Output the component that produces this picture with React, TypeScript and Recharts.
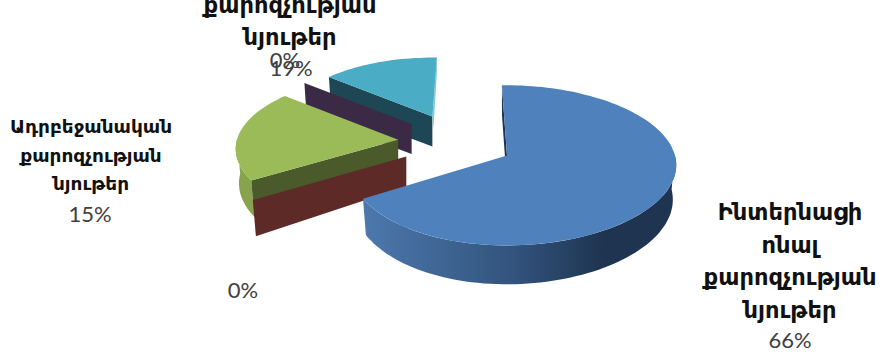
import React from "react";
import { PieChart, Pie } from "recharts";

// Share of propaganda materials by source. Listed counter-clockwise from the top,
// so that the slices furthest from the viewer are painted first.
const sliceKeys = ["regionalOther", "hiddenBack", "azerbaijani", "hiddenFront", "international"];
const sliceValues = [19, 0, 15, 0, 66];
const percentLabels = ["19%", "0%", "15%", "0%", "66%"];
const sliceCaptions = [
  ["քարոզչության", "նյութեր"],
  [],
  ["Ադրբեջանական", "քարոզչության", "նյութեր"],
  [],
  ["Ինտերնացի", "ոնալ", "քարոզչության", "նյութեր"],
];

const chartData = sliceKeys.map((key, i) => ({ key, value: sliceValues[i] }));

type Tone = { top: string; wall: string; rim: string; edge?: string };
const tones: Tone[] = [
  { top: "#4BACC6", wall: "#1E4756", rim: "#3D8CA1", edge: "#86C6D8" },
  { top: "#8064A2", wall: "#3A2A46", rim: "#3A2A46" },
  { top: "#9BBB59", wall: "#4B5A2B", rim: "#87A34D" },
  { top: "#C0504D", wall: "#5E2A28", rim: "#5E2A28" },
  { top: "#4F81BD", wall: "#1E3450", rim: "url(#blueRim)" },
];

// Where each caption block sits: centre x, first baseline, line step, font size, percent baseline.
const captionSpots = [
  { x: 290, y: 13, step: 32, size: 22.6, pct: 76, pctX: 291 },
  { x: 285, y: 0, step: 0, size: 0, pct: 68, pctX: 285 },
  { x: 91, y: 133, step: 28.5, size: 18.5, pct: 222, pctX: 90 },
  { x: 243, y: 0, step: 0, size: 0, pct: 298, pctX: 243 },
  { x: 790, y: 220, step: 32.5, size: 22.6, pct: 348, pctX: 790 },
];

// Tilted-view projection of the pie.
const VIEW = {
  cx: 456,
  cy: 142,
  radius: 162,
  squash: 0.486, // vertical / horizontal radius of the disc
  perspective: 0.125,
  explodeX: 58,
  explodeY: 28,
  rimDepth: 34,
  apexDepth: 30,
  // Slices nearer the viewer look larger and spread outward.
  nearX: 0.08,
  nearY: 0.115,
  nearRef: 0.469,
  spread: 0.041,
};

// Foreshortening of the view: clockwise bearing from the top of the pie -> bearing on screen.
const bearingKnots: [number, number][] = [
  [0, -2],
  [237.6, 239],
  [291.6, 310],
  [360, 362],
];

const rad = (deg: number) => (deg * Math.PI) / 180;

function viewBearing(b: number) {
  const v = Math.max(0, Math.min(360, b));
  for (let i = 1; i < bearingKnots.length; i++) {
    const [a0, b0] = bearingKnots[i - 1];
    const [a1, b1] = bearingKnots[i];
    if (v <= a1) return b0 + ((v - a0) / (a1 - a0)) * (b1 - b0);
  }
  return v;
}

function SliceShape(props: any) {
  const { cx, cy, outerRadius, startAngle, endAngle, index } = props;
  const tone = tones[index];
  // Recharts angles run counter-clockwise from 3 o'clock; bearings run clockwise from 12.
  const bStart = viewBearing(90 - endAngle + 360 * (90 - endAngle < 0 ? 1 : 0));
  const bEndRaw = 90 - startAngle + 360 * (90 - startAngle <= 0 ? 1 : 0);
  const bEnd = viewBearing(bEndRaw);
  const mid = (bStart + bEnd) / 2;
  const eu = Math.sin(rad(mid));
  const ev = -Math.cos(rad(mid));
  const ax = cx + VIEW.explodeX * eu;
  const ay = cy + VIEW.explodeY * ev;
  const nearX = 1 + VIEW.nearX * (ev - VIEW.nearRef);
  const nearY = 1 + VIEW.nearY * (ev - VIEW.nearRef);

  const rimPoint = (b: number, drop: boolean) => {
    const u = Math.sin(rad(b));
    const v = -Math.cos(rad(b));
    const s = 1 / (1 - VIEW.perspective * v);
    const x = ax + outerRadius * u * s * nearX * (1 + VIEW.spread * u * eu);
    const y = ay + outerRadius * VIEW.squash * v * s * nearY;
    return drop ? { x: ax + (x - ax) * 0.98, y: y + VIEW.rimDepth * s } : { x, y };
  };
  const apexLow = { x: ax, y: ay + VIEW.apexDepth };
  const arc = (from: number, to: number, drop: boolean) => {
    const pts = [];
    const n = Math.max(1, Math.ceil(Math.abs(to - from) / 2));
    for (let i = 0; i <= n; i++) pts.push(rimPoint(from + ((to - from) * i) / n, drop));
    return pts;
  };
  const toPath = (pts: { x: number; y: number }[]) =>
    "M" + pts.map((p) => `${p.x.toFixed(1)},${p.y.toFixed(1)}`).join("L") + "Z";

  const parts: React.ReactNode[] = [];
  const rimFrom = Math.max(bStart, 90);
  const rimTo = Math.min(bEnd, 270);
  if (rimTo > rimFrom) {
    parts.push(
      <path key="rim" fill={tone.rim} d={toPath([...arc(rimFrom, rimTo, false), ...arc(rimTo, rimFrom, true)])} />
    );
  }
  // The cut face on the clockwise-leading edge looks toward the viewer.
  parts.push(
    <path
      key="wall"
      fill={tone.wall}
      d={toPath([{ x: ax, y: ay }, rimPoint(bStart, false), rimPoint(bStart, true), apexLow])}
    />
  );
  if (tone.edge) {
    // Sliver of the trailing cut face, lit from the right.
    const tip = rimPoint(bEnd, false);
    parts.push(
      <path
        key="edge"
        fill={tone.edge}
        d={toPath([{ x: ax, y: ay }, tip, { x: tip.x, y: tip.y + VIEW.apexDepth / 2 }, { x: ax + 1, y: ay + 12 }])}
      />
    );
  }
  if (bEnd > bStart) {
    parts.push(
      <path key="top" fill={tone.top} d={toPath([{ x: ax, y: ay }, ...arc(bStart, bEnd, false)])} />
    );
  }
  return <g>{parts}</g>;
}

function SliceLabel(props: any) {
  const { index } = props;
  const spot = captionSpots[index];
  const lines = sliceCaptions[index];
  return (
    <g>
      {lines.map((line, i) => (
        <text
          key={i}
          x={spot.x}
          y={spot.y + i * spot.step}
          textAnchor="middle"
          fontFamily="'DejaVu Sans', sans-serif"
          fontWeight={700}
          fontSize={spot.size}
          fill="#111111"
        >
          {line}
        </text>
      ))}
      <text
        x={spot.pctX}
        y={spot.pct}
        textAnchor="middle"
        fontFamily="Lato, sans-serif"
        fontSize={22}
        fill="#404040"
      >
        {percentLabels[index]}
      </text>
    </g>
  );
}

export default function App() {
  return (
    <div style={{ position: "absolute", left: 0, top: 0, width: 882, height: 354, background: "#fff" }}>
      <PieChart width={882} height={354} margin={{ top: 0, right: 0, bottom: 0, left: 0 }}>
        <defs>
          <linearGradient id="blueRim" gradientUnits="userSpaceOnUse" x1="365" y1="0" x2="672" y2="0">
            <stop offset="0" stopColor="#4C78AC" />
            <stop offset="0.5" stopColor="#31527B" />
            <stop offset="0.78" stopColor="#1E3450" />
            <stop offset="1" stopColor="#1E3450" />
          </linearGradient>
        </defs>
        <Pie
          data={chartData}
          dataKey="value"
          nameKey="key"
          cx={VIEW.cx}
          cy={VIEW.cy}
          innerRadius={0}
          outerRadius={VIEW.radius}
          startAngle={90}
          endAngle={450}
          stroke="none"
          isAnimationActive={false}
          shape={SliceShape}
          label={SliceLabel}
          labelLine={false}
        />
      </PieChart>
    </div>
  );
}
